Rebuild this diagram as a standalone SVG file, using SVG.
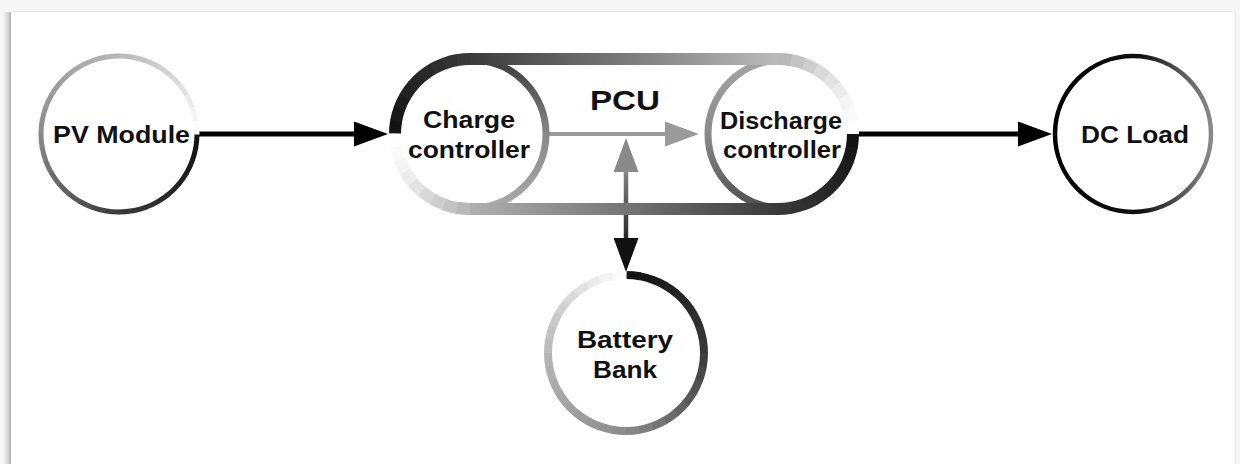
<svg xmlns="http://www.w3.org/2000/svg" xmlns:xlink="http://www.w3.org/1999/xlink" width="1240" height="464" viewBox="0 0 1240 464">
<style>
.seg{fill:none;stroke-dasharray:14.2 480}
.pseg{fill:none;stroke-width:12;stroke-dasharray:13.7 460}
.lbl{font-family:"Liberation Sans",Arial,Helvetica,sans-serif;font-weight:bold;fill:#111;text-anchor:middle}
</style>
<defs>
<linearGradient id="gShadow" x1="0" y1="0" x2="1" y2="0">
<stop offset="0" stop-color="#f6f6f6"/><stop offset="0.7" stop-color="#d0d0d0"/><stop offset="1" stop-color="#a8a8a8"/>
</linearGradient>
<linearGradient id="gTop" gradientUnits="userSpaceOnUse" x1="470" y1="0" x2="778" y2="0">
<stop offset="0" stop-color="#3a3a3a"/><stop offset="1" stop-color="#bbbbbb"/>
</linearGradient>
<linearGradient id="gBot" gradientUnits="userSpaceOnUse" x1="778" y1="0" x2="470" y2="0">
<stop offset="0" stop-color="#3a3a3a"/><stop offset="1" stop-color="#b0b0b0"/>
</linearGradient>
<linearGradient id="gCharge" gradientUnits="userSpaceOnUse" x1="0" y1="60" x2="0" y2="208">
<stop offset="0" stop-color="#3c3c3c"/><stop offset="0.5" stop-color="#888888"/><stop offset="1" stop-color="#aaaaaa"/>
</linearGradient>
<linearGradient id="gDis" gradientUnits="userSpaceOnUse" x1="0" y1="60" x2="0" y2="208">
<stop offset="0" stop-color="#a4a4a4"/><stop offset="0.5" stop-color="#8a8a8a"/><stop offset="1" stop-color="#505050"/>
</linearGradient>
<linearGradient id="gLoad" gradientUnits="userSpaceOnUse" x1="1055" y1="0" x2="1211" y2="0">
<stop offset="0" stop-color="#000"/><stop offset="0.55" stop-color="#111"/><stop offset="1" stop-color="#8a8a8a"/>
</linearGradient>
<linearGradient id="gVert" gradientUnits="userSpaceOnUse" x1="0" y1="168" x2="0" y2="242">
<stop offset="0" stop-color="#888"/><stop offset="1" stop-color="#222"/>
</linearGradient>
<marker id="mBlack" markerUnits="userSpaceOnUse" markerWidth="34" markerHeight="25" refX="2" refY="12.5" orient="auto-start-reverse" viewBox="0 0 34 25">
<path d="M0,0 L34,12.5 L0,25 z" fill="#000"/>
</marker>
<marker id="mGray" markerUnits="userSpaceOnUse" markerWidth="34" markerHeight="25" refX="2" refY="12.5" orient="auto-start-reverse" viewBox="0 0 34 25">
<path d="M0,0 L34,12.5 L0,25 z" fill="#9a9a9a"/>
</marker>
<marker id="mGray2" markerUnits="userSpaceOnUse" markerWidth="34" markerHeight="25" refX="2" refY="12.5" orient="auto-start-reverse" viewBox="0 0 34 25">
<path d="M0,0 L34,12.5 L0,25 z" fill="#8a8a8a"/>
</marker>
<marker id="mDark" markerUnits="userSpaceOnUse" markerWidth="34" markerHeight="25" refX="2" refY="12.5" orient="auto-start-reverse" viewBox="0 0 34 25">
<path d="M0,0 L34,12.5 L0,25 z" fill="#111"/>
</marker>
<g id="conic">
<circle class="seg" r="78" stroke="#131313"/>
<circle class="seg" r="78" stroke="#181818" transform="rotate(10)"/>
<circle class="seg" r="78" stroke="#1c1c1c" transform="rotate(20)"/>
<circle class="seg" r="78" stroke="#212121" transform="rotate(30)"/>
<circle class="seg" r="78" stroke="#262626" transform="rotate(40)"/>
<circle class="seg" r="78" stroke="#2a2a2a" transform="rotate(50)"/>
<circle class="seg" r="78" stroke="#2f2f2f" transform="rotate(60)"/>
<circle class="seg" r="78" stroke="#333333" transform="rotate(70)"/>
<circle class="seg" r="78" stroke="#383838" transform="rotate(80)"/>
<circle class="seg" r="78" stroke="#3e3e3e" transform="rotate(90)"/>
<circle class="seg" r="78" stroke="#474747" transform="rotate(100)"/>
<circle class="seg" r="78" stroke="#505050" transform="rotate(110)"/>
<circle class="seg" r="78" stroke="#595959" transform="rotate(120)"/>
<circle class="seg" r="78" stroke="#626262" transform="rotate(130)"/>
<circle class="seg" r="78" stroke="#6b6b6b" transform="rotate(140)"/>
<circle class="seg" r="78" stroke="#747474" transform="rotate(150)"/>
<circle class="seg" r="78" stroke="#7d7d7d" transform="rotate(160)"/>
<circle class="seg" r="78" stroke="#868686" transform="rotate(170)"/>
<circle class="seg" r="78" stroke="#8d8d8d" transform="rotate(180)"/>
<circle class="seg" r="78" stroke="#929292" transform="rotate(190)"/>
<circle class="seg" r="78" stroke="#979797" transform="rotate(200)"/>
<circle class="seg" r="78" stroke="#9c9c9c" transform="rotate(210)"/>
<circle class="seg" r="78" stroke="#a1a1a1" transform="rotate(220)"/>
<circle class="seg" r="78" stroke="#a6a6a6" transform="rotate(230)"/>
<circle class="seg" r="78" stroke="#ababab" transform="rotate(240)"/>
<circle class="seg" r="78" stroke="#b0b0b0" transform="rotate(250)"/>
<circle class="seg" r="78" stroke="#b5b5b5" transform="rotate(260)"/>
<circle class="seg" r="78" stroke="#bcbcbc" transform="rotate(270)"/>
<circle class="seg" r="78" stroke="#c3c3c3" transform="rotate(280)"/>
<circle class="seg" r="78" stroke="#cacaca" transform="rotate(290)"/>
<circle class="seg" r="78" stroke="#d1d1d1" transform="rotate(300)"/>
<circle class="seg" r="78" stroke="#d8d8d8" transform="rotate(310)"/>
<circle class="seg" r="78" stroke="#e1e1e1" transform="rotate(320)"/>
<circle class="seg" r="78" stroke="#ebebeb" transform="rotate(330)"/>
<circle class="seg" r="78" stroke="#f4f4f4" transform="rotate(340)"/>
<circle class="seg" r="78" stroke="#fbfbfb" transform="rotate(350)"/>
</g>
<g id="qdark">
<circle class="pseg" r="75" stroke="#131313"/>
<circle class="pseg" r="75" stroke="#181818" transform="rotate(10)"/>
<circle class="pseg" r="75" stroke="#1c1c1c" transform="rotate(20)"/>
<circle class="pseg" r="75" stroke="#212121" transform="rotate(30)"/>
<circle class="pseg" r="75" stroke="#262626" transform="rotate(40)"/>
<circle class="pseg" r="75" stroke="#2a2a2a" transform="rotate(50)"/>
<circle class="pseg" r="75" stroke="#2f2f2f" transform="rotate(60)"/>
<circle class="pseg" r="75" stroke="#333333" transform="rotate(70)"/>
<circle class="pseg" r="75" stroke="#383838" transform="rotate(80)"/>
</g>
<g id="qlight">
<circle class="pseg" r="75" stroke="#b8b8b8"/>
<circle class="pseg" r="75" stroke="#c3c3c3" transform="rotate(10)"/>
<circle class="pseg" r="75" stroke="#cecece" transform="rotate(20)"/>
<circle class="pseg" r="75" stroke="#d9d9d9" transform="rotate(30)"/>
<circle class="pseg" r="75" stroke="#e3e3e3" transform="rotate(40)"/>
<circle class="pseg" r="75" stroke="#ececec" transform="rotate(50)"/>
<circle class="pseg" r="75" stroke="#f4f4f4" transform="rotate(60)"/>
<circle class="pseg" r="75" stroke="#fafafa" transform="rotate(70)"/>
<circle class="pseg" r="75" stroke="#fefefe" transform="rotate(80)"/>
</g>
</defs>

<g id="background">
<rect x="0" y="0" width="1240" height="464" fill="#f6f6f6"/>
<rect x="3" y="12" width="8" height="452" fill="url(#gShadow)"/>
<rect x="11" y="11" width="1225" height="453" fill="#e8e8e8"/>
<rect x="11" y="12" width="1224" height="452" fill="#ffffff"/>
</g>

<g id="connectors">
<line x1="199" y1="134" x2="356" y2="134" stroke="#000" stroke-width="5" marker-end="url(#mBlack)"/>
<line x1="857" y1="134" x2="1020" y2="134" stroke="#000" stroke-width="5" marker-end="url(#mBlack)"/>
<line x1="549" y1="134" x2="667" y2="134" stroke="#9a9a9a" stroke-width="4" marker-end="url(#mGray)"/>
<line x1="626" y1="170" x2="626" y2="240" stroke="url(#gVert)" stroke-width="4.5" marker-start="url(#mGray2)" marker-end="url(#mDark)"/>
</g>

<g id="node-pv">
<use href="#conic" xlink:href="#conic" transform="translate(119,134)" style="stroke-width:5"/>
<text class="lbl" x="121.5" y="143" font-size="24" textLength="137" lengthAdjust="spacingAndGlyphs">PV Module</text>
</g>

<g id="node-pcu">
<g id="node-charge">
<path d="M472,60 A74,74 0 0 1 472,208" fill="none" stroke="url(#gCharge)" stroke-width="7"/>
<text class="lbl" x="469" y="128" font-size="23" textLength="92" lengthAdjust="spacingAndGlyphs">Charge</text>
<text class="lbl" x="469" y="158" font-size="23" textLength="122" lengthAdjust="spacingAndGlyphs">controller</text>
</g>
<g id="node-discharge">
<path d="M782,60 A74,74 0 0 0 782,208" fill="none" stroke="url(#gDis)" stroke-width="7"/>
<text class="lbl" x="781" y="129" font-size="23" textLength="122" lengthAdjust="spacingAndGlyphs">Discharge</text>
<text class="lbl" x="782" y="158" font-size="23" textLength="118" lengthAdjust="spacingAndGlyphs">controller</text>
</g>
<g id="pcu-outline">
<use href="#qdark" xlink:href="#qdark" transform="translate(470,134) rotate(180)"/>
<rect x="470" y="53" width="308" height="12" fill="url(#gTop)"/>
<use href="#qlight" xlink:href="#qlight" transform="translate(778,134) rotate(270)"/>
<use href="#qdark" xlink:href="#qdark" transform="translate(778,134)"/>
<rect x="470" y="203" width="308" height="12" fill="url(#gBot)"/>
<use href="#qlight" xlink:href="#qlight" transform="translate(470,134) rotate(90)"/>
</g>
<text class="lbl" x="625" y="110" font-size="28" textLength="70" lengthAdjust="spacingAndGlyphs">PCU</text>
</g>

<g id="node-dcload">
<circle cx="1133" cy="134" r="78" fill="none" stroke="url(#gLoad)" stroke-width="4.5"/>
<text class="lbl" x="1135" y="143" font-size="24" textLength="108" lengthAdjust="spacingAndGlyphs">DC Load</text>
</g>

<g id="node-battery">
<use href="#conic" xlink:href="#conic" transform="translate(626,353) rotate(-90)" style="stroke-width:8"/>
<text class="lbl" x="625" y="348" font-size="24" textLength="96" lengthAdjust="spacingAndGlyphs">Battery</text>
<text class="lbl" x="625" y="378" font-size="24" textLength="64" lengthAdjust="spacingAndGlyphs">Bank</text>
</g>
</svg>
